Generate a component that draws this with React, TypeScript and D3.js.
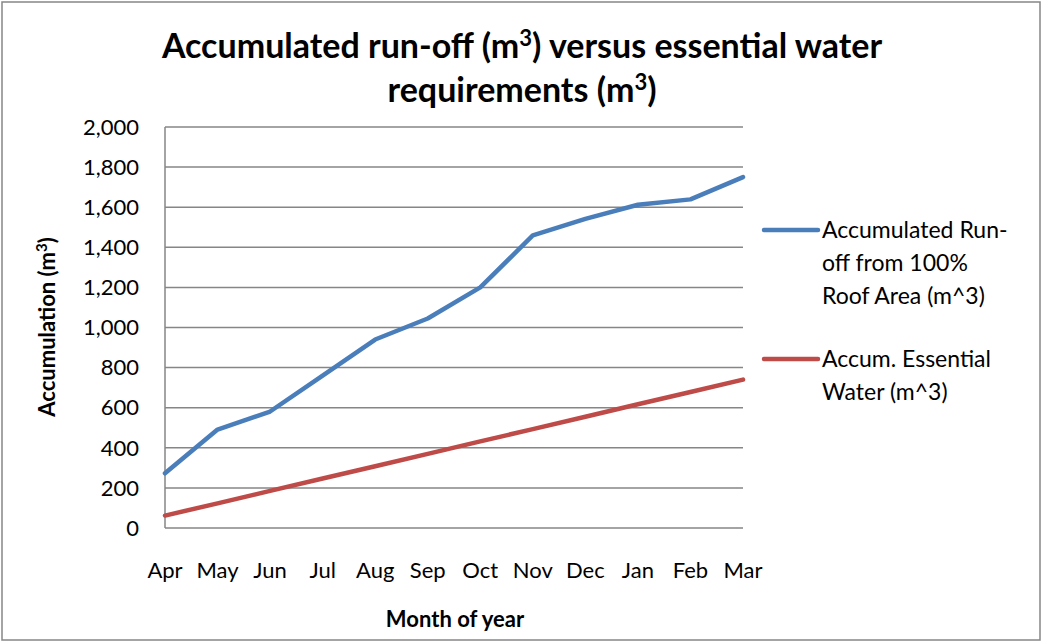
import React from "react";
import * as d3 from "d3";

const months = ["Apr", "May", "Jun", "Jul", "Aug", "Sep", "Oct", "Nov", "Dec", "Jan", "Feb", "Mar"];
const runoff = [273, 491, 581, 760, 940, 1045, 1200, 1459, 1542, 1612, 1639, 1750];
const essential = [62, 123, 185, 247, 308, 370, 432, 493, 555, 617, 678, 740];
const yTicks = [0, 200, 400, 600, 800, 1000, 1200, 1400, 1600, 1800, 2000];

const seriesList = [
  { name: ["Accumulated Run-", "off from 100%", "Roof Area (m^3)"], values: runoff, color: "#4A7EBB" },
  { name: ["Accum. Essential", "Water (m^3)"], values: essential, color: "#BE4B48" },
];

const font = "Lato, 'Open Sans', sans-serif";

const App = () => {
  const width = 1046;
  const height = 644;
  const left = 165;
  const right = 743;
  const top = 127;
  const bottom = 528;

  const xScale = d3.scalePoint().domain(months).range([left, right]);
  const yScale = d3.scaleLinear().domain([0, 2000]).range([bottom, top]);
  const line = d3
    .line<number>()
    .x((d, i) => xScale(months[i]) as number)
    .y((d) => yScale(d));
  const fmt = d3.format(",");

  return (
    <svg width={width} height={height} style={{ display: "block", position: "absolute", left: 0, top: 0 }}>
      <rect x={2} y={2} width={1038} height={638} fill="white" stroke="#868686" strokeWidth={1.5} />
      <g fontFamily={font} fontWeight="bold" fontSize={34} textAnchor="middle" fill="#000">
        <text x={522} y={58}>
          Accumulated run-off (m<tspan dy={-12} fontSize={22}>3</tspan>
          <tspan dy={12}>) versus essential water</tspan>
        </text>
        <text x={522} y={102}>
          requirements (m<tspan dy={-12} fontSize={22}>3</tspan>
          <tspan dy={12}>)</tspan>
        </text>
      </g>
      <g>
        {yTicks.map((t) => (
          <g key={t}>
            {t > 0 && (
              <line x1={left} x2={right} y1={yScale(t)} y2={yScale(t)} stroke="#868686" strokeWidth={1.5} />
            )}
            <text
              x={139}
              y={yScale(t)}
              dy="0.35em"
              textAnchor="end"
              fontFamily={font}
              fontSize={22}
              fill="#000"
            >
              {fmt(t)}
            </text>
          </g>
        ))}
        <line x1={left} x2={left} y1={top} y2={bottom} stroke="#868686" strokeWidth={1.5} />
        <line x1={left} x2={right} y1={bottom} y2={bottom} stroke="#868686" strokeWidth={1.5} />
      </g>
      <g fontFamily={font} fontSize={22} textAnchor="middle" fill="#000">
        {months.map((m) => (
          <text key={m} x={xScale(m)} y={578}>
            {m}
          </text>
        ))}
      </g>
      <text x={455} y={627} textAnchor="middle" fontFamily={font} fontWeight="bold" fontSize={22}>
        Month of year
      </text>
      <text
        transform="translate(55,327) rotate(-90)"
        textAnchor="middle"
        fontFamily={font}
        fontWeight="bold"
        fontSize={22}
      >
        Accumulation (m<tspan dy={-8} fontSize={15}>3</tspan>
        <tspan dy={8}>)</tspan>
      </text>
      {seriesList.map((s) => (
        <path
          key={s.color}
          d={line(s.values) ?? ""}
          fill="none"
          stroke={s.color}
          strokeWidth={4.5}
          strokeLinejoin="round"
          strokeLinecap="round"
        />
      ))}
      {seriesList.map((s, i) => {
        const y0 = i === 0 ? 230 : 359;
        return (
          <g key={s.color}>
            <line x1={764} x2={818} y1={y0} y2={y0} stroke={s.color} strokeWidth={4.5} strokeLinecap="round" />
            {s.name.map((n, j) => (
              <text key={n} x={822} y={y0 + j * 33} dy="0.35em" fontFamily={font} fontSize={23} fill="#000">
                {n}
              </text>
            ))}
          </g>
        );
      })}
    </svg>
  );
};

export default App;
